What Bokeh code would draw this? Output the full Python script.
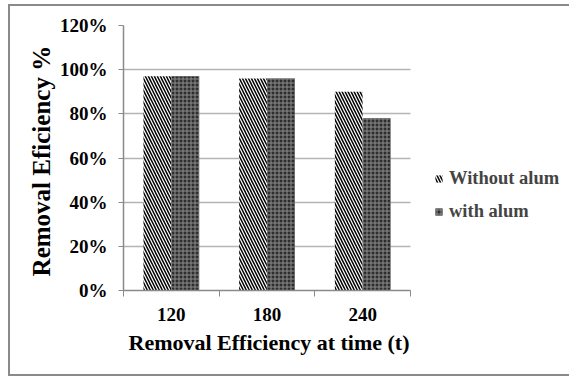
from bokeh.plotting import figure
from bokeh.models import (Range1d, FixedTicker, NumeralTickFormatter, Legend,
                          LegendItem, InlineStyleSheet, Title)
from bokeh.embed import file_html
from bokeh.resources import INLINE

# Removal efficiency at each contact time, with and without alum
times = ["120", "180", "240"]
without_alum = [0.97, 0.96, 0.90]
with_alum = [0.97, 0.96, 0.78]
y_ticks = [0, 0.2, 0.4, 0.6, 0.8, 1.0, 1.2]

FONT = "Liberation Serif"
n = len(times)
centers = [i + 0.5 for i in range(n)]
bar_w = 0.29
off = 0.146

# grey outer frame around the whole chart
frame_css = InlineStyleSheet(css="""
:host { position: relative; }
:host::after {
  content: ""; position: absolute; left: 8px; top: 4px;
  width: 580px; height: 372px; border: 2px solid #8a8a8a;
  pointer-events: none; box-sizing: border-box;
}
""")

# plot area runs to the right edge so the legend can sit beside the bars;
# axis and grid lines are bounded to the category span
p = figure(width=569, height=379, output_backend="svg", toolbar_location=None,
           x_range=Range1d(0, n * 446 / 287), y_range=Range1d(0, 1.2),
           min_border_left=123, min_border_right=0,
           min_border_top=25, min_border_bottom=89,
           stylesheets=[frame_css])
p.outline_line_color = None
p.background_fill_color = "white"
p.border_fill_color = "white"

r1 = p.vbar(x=[c - off for c in centers], top=without_alum, width=bar_w,
            fill_color="white", line_color=None,
            hatch_pattern="\\", hatch_color="black", hatch_weight=1.5,
            hatch_scale=6)
r2 = p.vbar(x=[c + off for c in centers], top=with_alum, width=bar_w,
            fill_color="#2e2e2e", line_color=None,
            hatch_pattern="+", hatch_color="#8c8c8c", hatch_weight=1,
            hatch_scale=4)

# x axis: labels at category centres, ticks at category boundaries
p.xaxis.bounds = (0, n)
p.xaxis.ticker = FixedTicker(ticks=centers, minor_ticks=list(range(n + 1)))
p.xaxis.major_label_overrides = {c: t for c, t in zip(centers, times)}
p.xaxis.major_tick_line_color = None
p.xaxis.minor_tick_line_color = "#8a8a8a"
p.xaxis.minor_tick_out = 6
p.xaxis.minor_tick_in = 0
p.xaxis.axis_line_color = "#8a8a8a"
p.xaxis.axis_line_width = 1.5
p.xaxis.major_label_standoff = 11

# x title, left-aligned so it centres under the categories
p.add_layout(Title(text="Removal Efficiency at time (t)", align="left",
                   offset=5, standoff=9, text_font=FONT,
                   text_font_style="bold", text_font_size="22px",
                   text_color="black"), "below")

# y axis
p.yaxis.ticker = FixedTicker(ticks=y_ticks)
p.yaxis.formatter = NumeralTickFormatter(format="0%")
p.yaxis.major_tick_line_color = "#8a8a8a"
p.yaxis.major_tick_out = 5
p.yaxis.major_tick_in = 0
p.yaxis.minor_tick_line_color = None
p.yaxis.axis_line_color = "#8a8a8a"
p.yaxis.axis_line_width = 1.5
p.yaxis.major_label_standoff = 11
p.yaxis.axis_label = "Removal  Eficiency %"
p.yaxis.axis_label_standoff = 2
p.yaxis.axis_label_text_font = FONT
p.yaxis.axis_label_text_font_style = "bold"
p.yaxis.axis_label_text_font_size = "25px"
p.yaxis.axis_label_text_color = "black"

for ax in (p.xaxis, p.yaxis):
    ax.major_label_text_font = FONT
    ax.major_label_text_font_style = "bold"
    ax.major_label_text_font_size = "19px"
    ax.major_label_text_color = "black"

p.xgrid.grid_line_color = None
p.ygrid.ticker = FixedTicker(ticks=y_ticks)
p.ygrid.cross_bounds = (0, n)
p.ygrid.grid_line_color = "#b4b4b4"
p.ygrid.grid_line_width = 1.5

legend = Legend(items=[LegendItem(label="Without alum", renderers=[r1]),
                       LegendItem(label="with alum", renderers=[r2])],
                location=(311, 68), orientation="vertical",
                border_line_color=None, background_fill_alpha=0,
                glyph_width=9, glyph_height=9, spacing=12,
                label_text_font=FONT, label_text_font_style="bold",
                label_text_font_size="18.5px", label_standoff=6,
                padding=0, margin=0)
p.add_layout(legend, "center")

open("out.html", "w").write(file_html(p, INLINE))
